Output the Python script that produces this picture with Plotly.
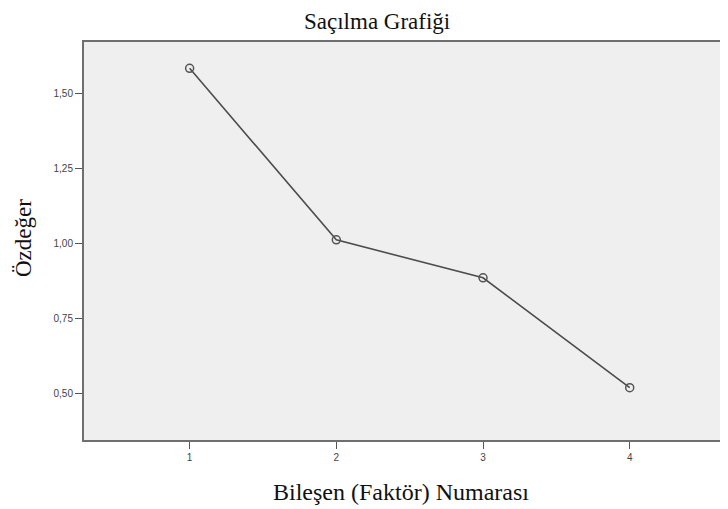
import plotly.graph_objects as go

components = [1, 2, 3, 4]
eigenvalues = [1.585, 1.012, 0.885, 0.518]
y_ticks = [0.50, 0.75, 1.00, 1.25, 1.50]
y_tick_labels = ["0,50", "0,75", "1,00", "1,25", "1,50"]
x_ticks = [1, 2, 3, 4]

title_text = "Saçılma Grafiği"
x_title = "Bileşen (Faktör) Numarası"
y_title = "Özdeğer"

serif = "Liberation Serif, Times New Roman, serif"

fig = go.Figure()
fig.add_trace(go.Scatter(
    x=components, y=eigenvalues, mode="lines+markers",
    line=dict(color="#4d4d4d", width=1.6),
    marker=dict(symbol="circle-open", size=8, color="#555555", line=dict(width=1.5)),
    showlegend=False,
))

fig.update_layout(
    width=720, height=501,
    margin=dict(l=76, r=0, t=34, b=69),
    paper_bgcolor="white", plot_bgcolor="#efefef",
    xaxis=dict(range=[0.28, 4.67], tickvals=x_ticks, ticktext=[str(v) for v in x_ticks],
               showgrid=False, zeroline=False, showline=True, linecolor="#6f6f6f", linewidth=2,
               mirror=True,
               ticks="outside", ticklen=7, tickcolor="#555555", tickwidth=1,
               tickfont=dict(family="Liberation Sans", size=10, color="#444444")),
    yaxis=dict(range=[0.343, 1.673], tickvals=y_ticks, ticktext=y_tick_labels,
               showgrid=False, zeroline=False, showline=True, linecolor="#6f6f6f", linewidth=2,
               ticks="outside", ticklen=7, tickcolor="#555555", tickwidth=1,
               tickfont=dict(family="Liberation Sans", size=10, color="#444444")),
    annotations=[
        dict(text=title_text, xref="paper", yref="paper", x=0.4557, y=1.0503,
             xanchor="center", yanchor="middle", showarrow=False,
             font=dict(family=serif, size=23, color="#111111")),
        dict(text=x_title, xref="paper", yref="paper", x=0.4915, y=-0.1307,
             xanchor="center", yanchor="middle", showarrow=False,
             font=dict(family=serif, size=24, color="#111111")),
        dict(text=y_title, xref="paper", yref="paper", x=-0.0947, y=0.5075,
             xanchor="center", yanchor="middle", showarrow=False, textangle=-90,
             font=dict(family=serif, size=23, color="#111111")),
    ],
)

fig.write_html("out.html")
